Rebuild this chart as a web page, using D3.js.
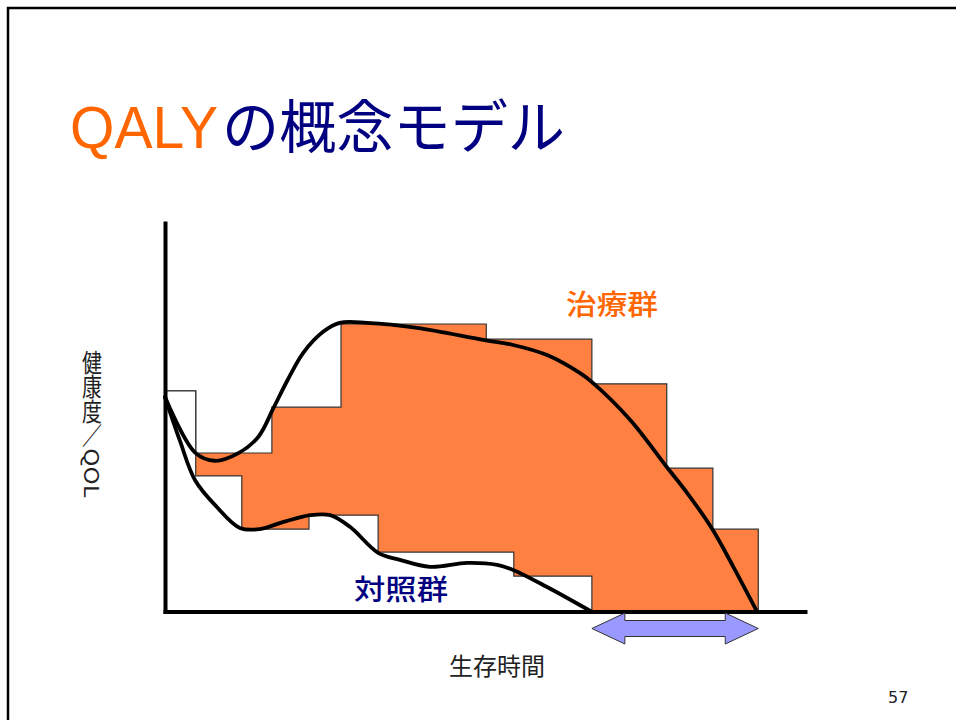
<!DOCTYPE html>
<html>
<head>
<meta charset="utf-8">
<script src="https://cdn.jsdelivr.net/npm/d3@7"></script>
<style>
  body { margin: 0; background: #fff; }
  svg { display: block; }
</style>
</head>
<body>
<script>
// ---- data (time in arbitrary units, health utility 0..1) ----
// Step approximation: value of each interval starting at the given time
const treatStepTime   = [0, 4.8, 16.7, 27.5, 50.2, 66.7, 78.4, 85.6, 92.7];
const treatStepValue  = [0.568, 0.408, 0.526, 0.740, 0.701, 0.586, 0.369, 0.212, 0];
const controlStepTime  = [0, 4.8, 12.0, 22.5, 33.3, 54.5, 66.7];
const controlStepValue = [0.568, 0.349, 0.212, 0.248, 0.153, 0.091, 0];

// Smooth health-state trajectories
const treatCurveTime  = [0, 4.7, 7.8, 11.4, 14.6, 16.9, 19.1, 21.6, 24.7, 27.3, 31.6, 39.4, 49.7, 54.4, 59.7, 64.8, 66.9, 72.7, 78.4, 81.6, 85.6, 88.8, 92.5];
const treatCurveValue = [0.552, 0.409, 0.388, 0.407, 0.450, 0.522, 0.594, 0.666, 0.720, 0.743, 0.743, 0.730, 0.699, 0.686, 0.660, 0.614, 0.588, 0.493, 0.372, 0.305, 0.210, 0.115, 0];
const controlCurveTime  = [0, 2.3, 4.7, 8.1, 11.7, 14.8, 18.4, 22.7, 25.8, 28.9, 33.3, 36.7, 41.4, 47.2, 51.9, 54.4, 59.7, 66.6];
const controlCurveValue = [0.552, 0.441, 0.338, 0.269, 0.215, 0.212, 0.230, 0.248, 0.248, 0.218, 0.151, 0.133, 0.115, 0.125, 0.120, 0.107, 0.063, 0];

const titleLatin = "QALY";
const titleRest = "の概念モデル";
const yLabel = "健康度／QOL";
const xLabel = "生存時間";
const treatLabel = "治療群";
const controlLabel = "対照群";
const pageNumber = "57";

// ---- layout ----
const W = 956, H = 720;
const svg = d3.select("body").append("svg").attr("width", W).attr("height", H);

const x = d3.scaleLinear().domain([0, 100]).range([165, 805]);
const y = d3.scaleLinear().domain([0, 1]).range([611.5, 223]);

const CJK = "'Noto Sans CJK JP', 'Noto Sans CJK SC', sans-serif";
const ORANGE_TEXT = "#FF6600";
const NAVY = "#000080";

// slide frame
svg.append("rect")
  .attr("x", 8).attr("y", 8).attr("width", W + 20).attr("height", H + 20)
  .attr("fill", "none").attr("stroke", "#000").attr("stroke-width", 2.5);

// title
svg.append("text")
  .attr("x", 70).attr("y", 148)
  .attr("font-family", "'Liberation Sans', Arial, sans-serif")
  .attr("font-size", 60)
  .attr("fill", ORANGE_TEXT)
  .attr("textLength", 148).attr("lengthAdjust", "spacingAndGlyphs")
  .text(titleLatin);
svg.append("text")
  .attr("x", 222).attr("y", 148)
  .attr("font-family", CJK)
  .attr("font-size", 58)
  .attr("fill", NAVY)
  .attr("textLength", 343).attr("lengthAdjust", "spacingAndGlyphs")
  .text(titleRest);

// ---- step areas ----
const stepArea = (times, values) => d3.area()
  .curve(d3.curveStepAfter)
  .x((d, i) => x(times[i]))
  .y0(y(0))
  .y1((d, i) => y(values[i]))(values);

svg.append("path")
  .attr("d", stepArea(treatStepTime, treatStepValue))
  .attr("fill", "#FF8040")
  .attr("stroke", "#333")
  .attr("stroke-width", 1.2);

svg.append("path")
  .attr("d", stepArea(controlStepTime, controlStepValue))
  .attr("fill", "#fff")
  .attr("stroke", "#333")
  .attr("stroke-width", 1.2);

// ---- smooth curves ----
const curveLine = (times, values) => d3.line()
  .curve(d3.curveCatmullRom.alpha(0.5))
  .x((d, i) => x(times[i]))
  .y((d, i) => y(values[i]))(values);

[[treatCurveTime, treatCurveValue], [controlCurveTime, controlCurveValue]].forEach(([t, v]) => {
  svg.append("path")
    .attr("d", curveLine(t, v))
    .attr("fill", "none")
    .attr("stroke", "#000")
    .attr("stroke-width", 3.8)
    .attr("stroke-linejoin", "round")
    .attr("stroke-linecap", "round");
});

// ---- axes (no ticks, heavy lines) ----
const xAxis = svg.append("g")
  .attr("transform", `translate(0,${y(0)})`)
  .call(d3.axisBottom(x).tickValues([]).tickSizeOuter(0));
const yAxis = svg.append("g")
  .attr("transform", `translate(${x(0)},0)`)
  .call(d3.axisLeft(y).tickValues([]).tickSizeOuter(0));
[xAxis, yAxis].forEach(g => g.select(".domain")
  .attr("stroke", "#000").attr("stroke-width", 4).attr("stroke-linecap", "square"));

// ---- survival gain arrow ----
const xs = x(controlStepTime[controlStepTime.length - 1]);
const xe = x(treatStepTime[treatStepTime.length - 1]);
const cy = 628.5, headH = 15.5, shaftH = 8, headL = 33;
const arrowPts = [
  [xs, cy], [xs + headL, cy - headH], [xs + headL, cy - shaftH],
  [xe - headL, cy - shaftH], [xe - headL, cy - headH], [xe, cy],
  [xe - headL, cy + headH], [xe - headL, cy + shaftH],
  [xs + headL, cy + shaftH], [xs + headL, cy + headH]
];
svg.append("path")
  .attr("d", d3.line()(arrowPts) + "Z")
  .attr("fill", "#9999FF")
  .attr("stroke", "#333")
  .attr("stroke-width", 1);

// ---- group labels ----
svg.append("text")
  .attr("x", 566).attr("y", 315)
  .attr("font-family", CJK).attr("font-size", 28).attr("font-weight", 500)
  .attr("fill", ORANGE_TEXT)
  .attr("textLength", 92).attr("lengthAdjust", "spacingAndGlyphs")
  .text(treatLabel);
svg.append("text")
  .attr("x", 354).attr("y", 600)
  .attr("font-family", CJK).attr("font-size", 28).attr("font-weight", 500)
  .attr("fill", NAVY)
  .attr("textLength", 94).attr("lengthAdjust", "spacingAndGlyphs")
  .text(controlLabel);

// ---- axis titles ----
svg.append("text")
  .attr("x", 449).attr("y", 675)
  .attr("font-family", CJK).attr("font-size", 24)
  .attr("fill", "#222")
  .attr("textLength", 96).attr("lengthAdjust", "spacingAndGlyphs")
  .text(xLabel);

// vertical y label, set in vertical writing mode
svg.append("text")
  .attr("x", 92).attr("y", 350)
  .attr("font-family", CJK)
  .attr("font-size", 20)
  .attr("fill", "#222")
  .style("writing-mode", "vertical-rl")
  .attr("textLength", 148).attr("lengthAdjust", "spacingAndGlyphs")
  .text(yLabel);

// page number
svg.append("text")
  .attr("x", 888).attr("y", 703)
  .attr("font-family", "'DejaVu Sans', sans-serif")
  .attr("font-size", 16)
  .attr("fill", "#222")
  .text(pageNumber);
</script>
</body>
</html>
